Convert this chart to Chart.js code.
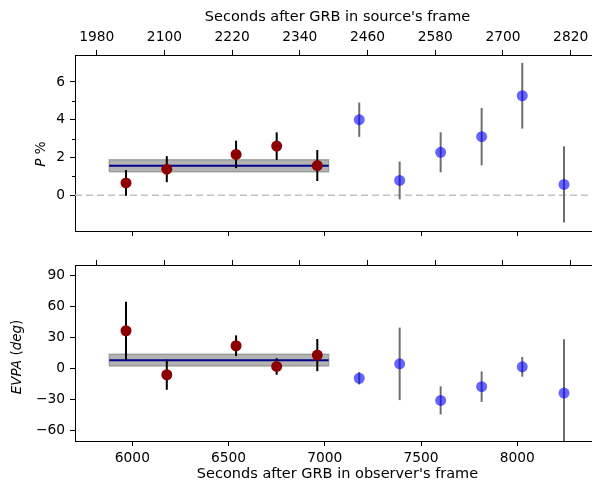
<!DOCTYPE html>
<html>
<head>
<meta charset="utf-8">
<script src="https://cdn.jsdelivr.net/npm/chart.js@4.4.1/dist/chart.umd.min.js"></script>
<style>
  html, body { margin: 0; padding: 0; background: #fff; overflow: hidden; }
  #wrap { position: relative; width: 592px; height: 484px; overflow: hidden; }
  canvas { position: absolute; left: 0; }
  #pChart { top: 0; }
  #evpaChart { top: 250px; }
</style>
</head>
<body>
<div id="wrap">
  <canvas id="pChart" width="600" height="250"></canvas>
  <canvas id="evpaChart" width="600" height="234"></canvas>
</div>
<script>
// observer-frame times (s) of the measurements
const redTime = [5967, 6179, 6539, 6750, 6961];
const blueTime = [7179, 7389, 7602, 7815, 8026, 8243];

// polarisation degree (%)
const redP = [0.65, 1.38, 2.16, 2.60, 1.57];
const redPErr = [0.68, 0.69, 0.73, 0.73, 0.82];
const blueP = [4.00, 0.78, 2.27, 3.10, 5.27, 0.57];
const bluePErr = [0.91, 1.00, 1.06, 1.52, 1.74, 2.02];

// polarisation angle (deg)
const redEVPA = [36.5, -6, 22, 2, 13];
const redEVPAErr = [28, 14.5, 10, 8, 15.5];
const blueEVPA = [-9.4, 4.5, -30.8, -17.5, 1.6, -23.7];
const blueEVPAErr = [6, 35, 13.6, 14.7, 9.5, 52];

// mean of the first five points and its band
const fitRange = [5880, 7020];
const pFit = 1.56, pFitErr = 0.32;
const evpaFit = 8.1, evpaFitErr = 5.7;

const obsTicks = [6000, 6500, 7000, 7500, 8000];
const srcTicks = [1980, 2100, 2220, 2340, 2460, 2580, 2700, 2820];
const pTicks = [0, 2, 4, 6];
const pMinorTicks = [1, 3, 5];
const evpaTicks = [-60, -30, 0, 30, 60, 90];

const OBS_LIM = [5702, 8430];
const SRC_LIM = [1941.5, 2872];
const P_LIM = [-1.9, 7.43];
const EVPA_LIM = [-70, 100];

const FONT = { family: 'DejaVu Sans', size: 13.8 };
const TITLE_FONT = { family: 'DejaVu Sans', size: 14.5 };
const INK = '#000';

function pts(xs, ys) {
  return xs.map((x, i) => ({ x: x, y: ys[i] }));
}

function fixedTicks(values) {
  return scale => { scale.ticks = values.map(v => ({ value: v })); };
}

function xScale(position, lim, ticks, labels, title, size) {
  return {
    type: 'linear',
    position: position,
    min: lim[0],
    max: lim[1],
    afterBuildTicks: fixedTicks(ticks),
    ticks: {
      font: FONT,
      color: INK,
      padding: 4,
      maxRotation: 0,
      autoSkip: false,
      callback: labels ? (v => String(v)) : (() => '')
    },
    grid: { drawOnChartArea: false, drawTicks: true, tickLength: 5, color: INK, lineWidth: 1 },
    border: { display: true, color: INK, width: 1 },
    title: title,
    afterFit: s => { s.height = size; s.paddingLeft = 0; s.paddingRight = 0; }
  };
}

function yScale(lim, ticks) {
  return {
    type: 'linear',
    position: 'left',
    min: lim[0],
    max: lim[1],
    afterBuildTicks: fixedTicks(ticks),
    ticks: { font: FONT, color: INK, padding: 5, callback: v => String(v).replace('-', '\u2212') },
    grid: { drawOnChartArea: false, drawTicks: true, tickLength: 5, color: INK, lineWidth: 1 },
    border: { display: true, color: INK, width: 1 },
    afterFit: s => { s.width = 75; s.paddingTop = 0; s.paddingBottom = 0; }
  };
}

// y label drawn by hand so that parts can be italic and it can sit a bit off-centre
function yTitle(parts, x, shift) {
  return {
    id: 'yTitle',
    afterDraw(chart) {
      const { ctx, chartArea: a } = chart;
      const fonts = parts.map(p => (p.italic ? 'italic ' : '') + '13.5px "DejaVu Sans"');
      let total = 0;
      const widths = parts.map((p, i) => { ctx.font = fonts[i]; const w = ctx.measureText(p.text).width; total += w; return w; });
      ctx.save();
      ctx.translate(x, (a.top + a.bottom) / 2 + shift);
      ctx.rotate(-Math.PI / 2);
      ctx.fillStyle = INK;
      ctx.textBaseline = 'middle';
      ctx.textAlign = 'left';
      let cx = -total / 2;
      parts.forEach((p, i) => { ctx.font = fonts[i]; ctx.fillText(p.text, cx, 0); cx += widths[i]; });
      ctx.restore();
    }
  };
}

function errorBars(sets) {
  return {
    id: 'errorBars',
    beforeDatasetDraw(chart, args) {
      if (chart.data.datasets[args.index].label !== 'after') return;
      const { ctx, chartArea: a, scales } = chart;
      ctx.save();
      ctx.beginPath();
      ctx.rect(a.left, a.top, a.right - a.left, a.bottom - a.top);
      ctx.clip();
      sets.forEach(s => {
        ctx.strokeStyle = s.color;
        ctx.lineWidth = 2;
        s.x.forEach((t, i) => {
          const px = scales.x.getPixelForValue(t);
          ctx.beginPath();
          ctx.moveTo(px, scales.y.getPixelForValue(s.y[i] - s.err[i]));
          ctx.lineTo(px, scales.y.getPixelForValue(s.y[i] + s.err[i]));
          ctx.stroke();
        });
      });
      ctx.restore();
    }
  };
}

const minorTicks = {
  id: 'minorTicks',
  afterDraw(chart) {
    const { ctx, scales, chartArea } = chart;
    ctx.save();
    ctx.strokeStyle = INK;
    ctx.lineWidth = 1;
    pMinorTicks.forEach(v => {
      const py = Math.round(scales.y.getPixelForValue(v)) + 0.5;
      ctx.beginPath();
      ctx.moveTo(chartArea.left - 3, py);
      ctx.lineTo(chartArea.left, py);
      ctx.stroke();
    });
    ctx.restore();
  }
};

function datasets(redY, blueY, fit, fitErr, withZero) {
  const lo = fit - fitErr, hi = fit + fitErr;
  const ds = [
    { label: 'before', type: 'scatter', order: 1, data: pts(redTime, redY),
      pointRadius: 5.5, pointBackgroundColor: '#8b0000', pointBorderWidth: 0 },
    { label: 'after', type: 'scatter', order: 2, data: pts(blueTime, blueY),
      pointRadius: 5.5, pointBackgroundColor: 'rgba(0,0,255,0.6)', pointBorderWidth: 0 },
    { label: 'fit', type: 'line', order: 3,
      data: pts(fitRange, [fit, fit]),
      borderColor: '#00008b', borderWidth: 2, pointRadius: 0, fill: false },
    { label: 'band', type: 'line', order: 5,
      data: pts([fitRange[0], fitRange[0], fitRange[1], fitRange[1], fitRange[0]], [lo, hi, hi, lo, lo]),
      borderColor: 'rgba(128,128,128,0.6)', backgroundColor: 'rgba(128,128,128,0.6)',
      borderWidth: 1.5, pointRadius: 0, fill: 'shape' }
  ];
  if (withZero) {
    ds.push({ label: 'zero', type: 'line', order: 4,
      data: pts(OBS_LIM, [0, 0]),
      borderColor: '#c0c0c0', borderWidth: 1.5, borderDash: [7, 4], pointRadius: 0, fill: false });
  }
  return ds;
}

const common = {
  responsive: false,
  animation: false,
  events: [],
  layout: { padding: 0, autoPadding: false },
  plugins: { legend: { display: false }, tooltip: { enabled: false } }
};

new Chart(document.getElementById('pChart'), {
  type: 'scatter',
  data: { datasets: datasets(redP, blueP, pFit, pFitErr, true) },
  options: Object.assign({}, common, {
    scales: {
      x: xScale('bottom', OBS_LIM, obsTicks, false, { display: false }, 19),
      xSrc: xScale('top', SRC_LIM, srcTicks, true,
        { display: true, text: "Seconds after GRB in source's frame", font: TITLE_FONT, color: INK, padding: { top: 9, bottom: 0 } }, 55),
      y: yScale(P_LIM, pTicks)
    }
  }),
  plugins: [errorBars([
    { x: redTime, y: redP, err: redPErr, color: '#000' },
    { x: blueTime, y: blueP, err: bluePErr, color: '#6e6e6e' }
  ]), minorTicks, yTitle([{ text: 'P', italic: true }, { text: ' %', italic: false }], 41, 11)]
});

new Chart(document.getElementById('evpaChart'), {
  type: 'scatter',
  data: { datasets: datasets(redEVPA, blueEVPA, evpaFit, evpaFitErr, false) },
  options: Object.assign({}, common, {
    scales: {
      x: xScale('bottom', OBS_LIM, obsTicks, true,
        { display: true, text: "Seconds after GRB in observer's frame", font: TITLE_FONT, color: INK, padding: { top: 0, bottom: 1 } }, 43),
      xSrc: xScale('top', SRC_LIM, srcTicks, false, { display: false }, 15),
      y: yScale(EVPA_LIM, evpaTicks)
    }
  }),
  plugins: [errorBars([
    { x: redTime, y: redEVPA, err: redEVPAErr, color: '#000' },
    { x: blueTime, y: blueEVPA, err: blueEVPAErr, color: '#6e6e6e' }
  ]), yTitle([{ text: 'EVPA', italic: true }, { text: ' (', italic: false }, { text: 'deg', italic: true }, { text: ')', italic: false }], 17, 4)]
});
</script>
</body>
</html>
